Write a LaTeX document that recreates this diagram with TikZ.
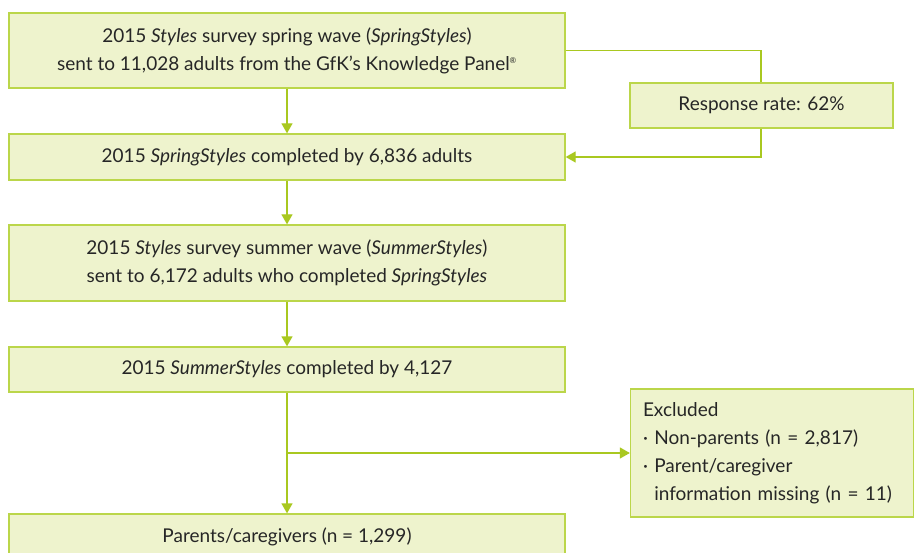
\documentclass[tikz,border=0pt]{standalone}
\usepackage{fontspec}
\setmainfont{Lato}
\usetikzlibrary{arrows.meta}
\definecolor{boxfill}{HTML}{EEF3CD}
\definecolor{boxline}{HTML}{BBD64A}
\definecolor{arr}{HTML}{A9C820}
\definecolor{txt}{HTML}{262626}
\begin{document}
\begin{tikzpicture}[x=1pt,y=-1pt,
  box/.style={draw=boxline, fill=boxfill, line width=1.3pt, text=txt,
    font=\fontsize{19}{28}\selectfont, inner sep=0pt, align=center},
  conn/.style={draw=arr, line width=1.3pt},
  tip/.style={conn, -{Triangle[length=10pt,width=11pt]}}]
\useasboundingbox (0,0) rectangle (915,553);
\begin{scope}
\clip (0,0) rectangle (915,553);
\node[box, minimum width=556pt, minimum height=75pt] (b1) at (287,50.5)
  {2015 \textit{Styles} survey spring wave (\textit{SpringStyles})\\
   sent to 11,028 adults from the GfK's Knowledge Panel\textsuperscript{\footnotesize\textregistered}};
\node[box, minimum width=556pt, minimum height=46pt] (b2) at (287,157)
  {2015 \textit{SpringStyles} completed by 6,836 adults};
\node[box, minimum width=556pt, minimum height=76pt] (b3) at (287,263)
  {2015 \textit{Styles} survey summer wave (\textit{SummerStyles})\\
   sent to 6,172 adults who completed \textit{SpringStyles}};
\node[box, minimum width=556pt, minimum height=45pt] (b4) at (287,369.5)
  {2015 \textit{SummerStyles} completed by 4,127};
\node[box, minimum width=556pt, minimum height=46pt] (b5) at (287,537)
  {Parents/caregivers (n = 1,299)};
\node[box, minimum width=263pt, minimum height=45pt] (rr) at (761.5,105.5)
  {Response rate: 62\%};
\node[box, minimum width=283pt, minimum height=128pt, align=left, text width=258pt] (ex) at (772,453)
  {Excluded\\
   · Non-parents (n = 2,817)\\
   · Parent/caregiver\\
   \phantom{· }information missing (n = 11)};
\coordinate (c1) at (761,50.5);
\coordinate (c2) at (761,157);
\coordinate (j) at (287,453);
\draw[tip] (b1) -- (b2);
\draw[tip] (b2) -- (b3);
\draw[tip] (b3) -- (b4);
\draw[tip] (b4) -- (b5);
\draw[conn] (b1.east |- c1) -- (c1) -- (rr.north -| c1);
\draw[tip] (rr.south -| c2) -- (c2) -- (b2.east);
\draw[tip] (j) -- (ex.west);
\end{scope}
\end{tikzpicture}
\end{document}
